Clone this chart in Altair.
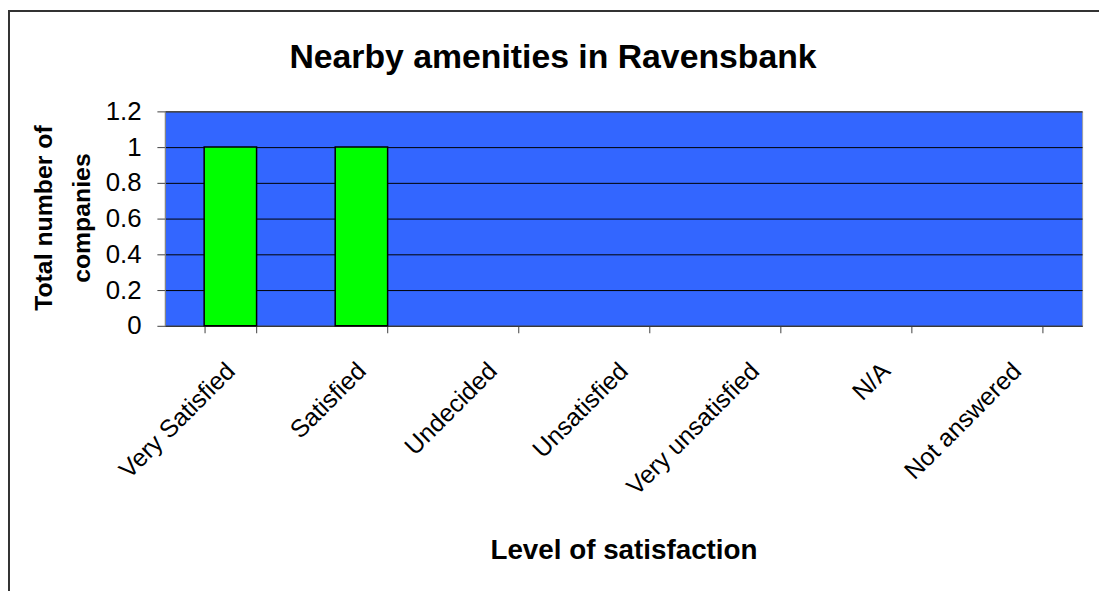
import altair as alt
import pandas as pd

categories = ["Very Satisfied", "Satisfied", "Undecided", "Unsatisfied",
              "Very unsatisfied", "N/A", "Not answered"]
counts = [1, 1, 0, 0, 0, 0, 0]
title_text = "Nearby amenities in Ravensbank"

df = pd.DataFrame({"category": categories, "count": counts})

FONT = "Liberation Sans"
W, H = 924, 216
PAD = {"left": 158, "top": 102, "right": 17, "bottom": 265}

bars = alt.Chart(df).mark_bar(
    color="#00FF00", stroke="#000000", strokeWidth=1.5
).encode(
    x=alt.X("category:N", sort=categories,
            scale=alt.Scale(domain=categories, paddingInner=0.6, paddingOuter=0.3),
            axis=alt.Axis(
                title="Level of satisfaction",
                labelAngle=-45, labelAlign="right", labelBaseline="middle",
                labelFontSize=25, labelFont=FONT, labelColor="#000000",
                labelPadding=34, labelLimit=400,
                tickBand="extent", tickSize=7, tickColor="#404040",
                domainColor="#404040",
                titleFont=FONT, titleFontSize=28, titleFontWeight="bold",
                titleColor="#000000",
                titleY=226, titleBaseline="middle",
            )),
    y=alt.Y("count:Q",
            scale=alt.Scale(domain=[0, 1.2], nice=False),
            axis=alt.Axis(
                title=["Total number of", "companies"],
                values=[0, 0.2, 0.4, 0.6, 0.8, 1, 1.2],
                format="~g",
                labelFontSize=26, labelFont=FONT, labelColor="#000000",
                labelPadding=16,
                tickSize=8, tickColor="#404040", domainColor="#808080",
                grid=True, gridColor="#000000", gridWidth=1, gridOpacity=1,
                titleFont=FONT, titleFontSize=25, titleFontWeight="bold",
                titleColor="#000000",
                titleX=-122, titleY=107, titleAngle=-90,
                titleBaseline="middle", titleAlign="center",
                titleLineHeight=38,
            )),
).transform_filter(alt.datum.count > 0)

title = alt.Chart(pd.DataFrame({"t": [title_text]})).mark_text(
    font=FONT, fontSize=34, fontWeight="bold", color="#000000",
    align="center", baseline="alphabetic"
).encode(
    text="t:N",
    x=alt.value(557 - 166),
    y=alt.value(66 - 110),
)

frame = alt.Chart(pd.DataFrame({"f": [0]})).mark_rect(
    filled=False, stroke="#333333", strokeWidth=2
).encode(
    x=alt.value(-PAD["left"] + 1),
    x2=alt.value(W + PAD["right"] + 20),
    y=alt.value(-PAD["top"] + 1),
    y2=alt.value(H + PAD["bottom"] + 20),
)

chart = alt.layer(bars, title, frame).properties(
    width=W, height=H,
    autosize=alt.AutoSizeParams(type="none"),
    padding=PAD,
).configure(background="#FFFFFF").configure_view(
    fill="#3366FF", stroke="#A0A0A0", strokeWidth=1
)

chart.save("out.html", embed_options={"renderer": "svg", "actions": False})
